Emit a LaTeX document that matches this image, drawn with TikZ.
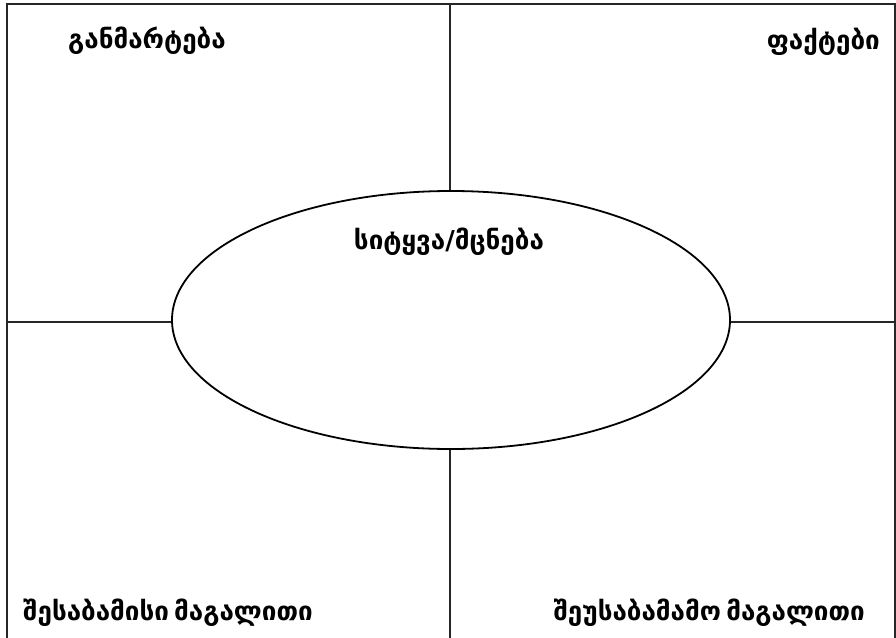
\documentclass[tikz,border=0pt]{standalone}
\usepackage{fontspec}
\setmainfont{DejaVu Sans}
\usetikzlibrary{shapes.geometric}
\begin{document}
\begin{tikzpicture}[x=1pt,y=-1pt,
  frame/.style={line width=2pt,draw=black!85},
  lbl/.style={font=\fontsize{26}{30}\selectfont\bfseries,inner sep=0pt}]
\useasboundingbox (0,0) rectangle (896,637);
\draw[frame] (6.5,650) -- (6.5,4) -- (894.5,4) -- (894.5,650);
\node[ellipse,draw,line width=1.8pt,minimum width=558,minimum height=258,inner sep=0pt] (e) at (451,320) {};
\coordinate (t) at (450,4);
\coordinate (b) at (450,650);
\coordinate (l) at (6.5,322);
\coordinate (r) at (894.5,322);
\draw[frame] (t) -- (e.north -| t);
\draw[frame] (e.south -| b) -- (b);
\draw[frame] (l) -- (e.west |- l);
\draw[frame] (e.east |- r) -- (r);
\node[lbl,anchor=west] (a) at (68,41) {განმარტება};
\node[lbl,anchor=east] (f) at (880,42) {ფაქტები};
\node[lbl,anchor=west] (c) at (23,613) {შესაბამისი\hspace{0.2em}მაგალითი};
\node[lbl,anchor=east] (d) at (865,613) {შეუსაბამამო\hspace{0.2em}მაგალითი};
\node[lbl] (w) at (449,242) {სიტყვა/მცნება};
\end{tikzpicture}
\end{document}
